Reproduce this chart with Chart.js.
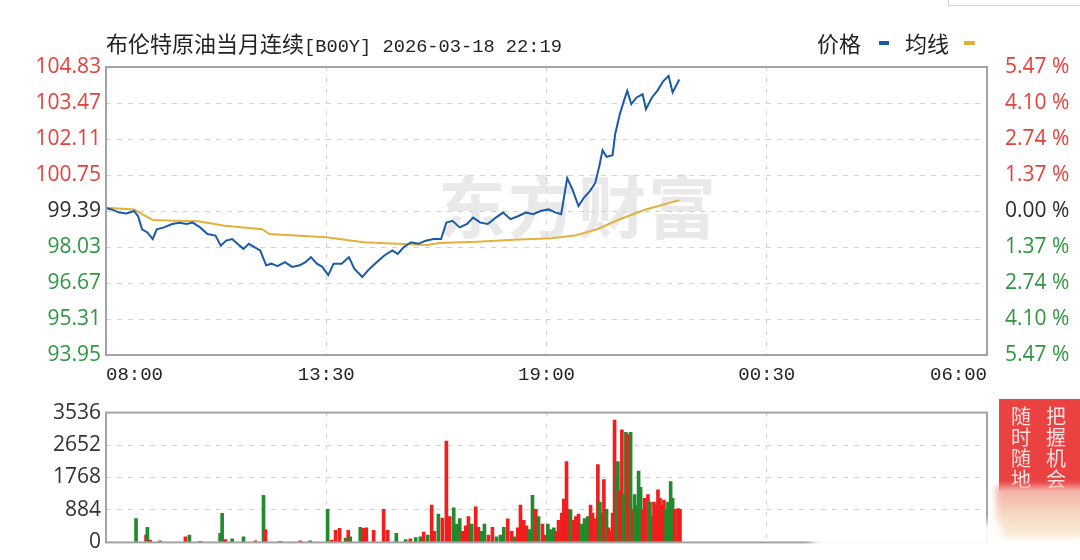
<!DOCTYPE html>
<html><head><meta charset="utf-8">
<script src="https://cdn.jsdelivr.net/npm/chart.js@4/dist/chart.umd.min.js"></script>
<style>
html,body{margin:0;padding:0;background:#fff;}
body{width:1080px;height:560px;overflow:hidden;position:relative;font-family:"Noto Sans CJK SC",sans-serif;}
canvas{position:absolute;left:0;}
#c1{top:0;}
#c2{top:395px;}
.t{position:absolute;white-space:nowrap;color:#222;line-height:1;}
.mono{font-family:"Liberation Mono",monospace;font-size:18.7px;}
#wm{position:absolute;left:438px;top:170px;font-size:68px;font-weight:700;color:#e9e9e9;letter-spacing:2px;line-height:1;}
#ad{position:absolute;left:999px;top:399px;width:81px;height:92px;background:#ea4141;color:#fbe3e3;font-size:20px;line-height:1.05;}
#ad .col{position:absolute;top:6px;width:22px;text-align:center;}
#adb{position:absolute;left:996px;top:486px;width:90px;height:52px;background:linear-gradient(#f3aaa2,#f6d9c4 55%,#f9eedb);filter:blur(3px);}
#blur{position:absolute;left:812px;top:522px;width:190px;height:34px;background:rgba(255,255,255,0.92);filter:blur(4px);}
#tr{position:absolute;left:948px;top:-20px;width:140px;height:24px;border:1px solid #c4d8ee;}
</style></head><body>
<div id="wm">东方财富</div>
<canvas id="c1" width="1080" height="400"></canvas>
<canvas id="c2" width="1080" height="165"></canvas>
<div class="t" style="left:106px;top:31px;font-size:22px;">布伦特原油当月连续<span class="mono">[B00Y] 2026-03-18 22:19</span></div>
<div class="t" style="left:817px;top:31px;font-size:22px;">价格</div>
<div style="position:absolute;left:879px;top:41px;width:10px;height:4px;background:#1c5aa6;"></div>
<div class="t" style="left:905px;top:31px;font-size:22px;">均线</div>
<div style="position:absolute;left:964px;top:41px;width:11px;height:4px;background:#e3b03c;"></div>
<div id="ad"><div class="col" style="left:46px;">把<br>握<br>机<br>会</div><div class="col" style="left:11px;">随<br>时<br>随<br>地</div></div>
<div id="adb"></div>
<div id="blur"></div>
<div id="tr"></div>
<script>
// ---------------- data ----------------
const xTickLabels = ["08:00","13:30","19:00","00:30","06:00"];
const prevClose = 99.39;
const priceTicks = [93.95,95.31,96.67,98.03,99.39,100.75,102.11,103.47,104.83];
const pctTickLabels = ["5.47","4.10","2.74","1.37","0.00","1.37","2.74","4.10","5.47"];
const volTicks = [0,884,1768,2652,3536];

const priceTimes = ["08:00","08:08","08:20","08:31","08:42","08:48","08:54","09:02","09:10","09:16","09:27","09:39","09:50","10:01","10:10","10:21","10:32","10:44","10:52","11:00","11:09","11:17","11:26","11:34","11:43","11:51","12:00","12:08","12:17","12:28","12:39","12:50","12:59","13:07","13:16","13:24","13:33","13:41","13:53","14:04","14:12","14:24","14:35","14:46","14:57","15:09","15:17","15:26","15:37","15:48","15:59","16:11","16:22","16:30","16:39","16:50","17:01","17:10","17:21","17:32","17:44","17:55","18:06","18:18","18:29","18:40","18:51","19:03","19:14","19:22","19:31","19:39","19:48","19:56","20:05","20:13","20:19","20:24","20:30","20:39","20:43","20:50","20:56","21:01","21:07","21:15","21:24","21:29","21:38","21:46","21:55","22:03","22:09","22:19"];
const priceValues = [99.50,99.45,99.33,99.30,99.39,99.20,98.70,98.58,98.33,98.70,98.77,98.90,98.95,98.90,98.95,98.77,98.52,98.46,98.08,98.27,98.33,98.15,97.96,98.15,98.02,97.90,97.34,97.40,97.31,97.46,97.28,97.34,97.46,97.65,97.40,97.28,96.97,97.40,97.40,97.65,97.21,96.90,97.21,97.46,97.71,97.90,97.77,98.02,98.21,98.15,98.27,98.33,98.33,98.95,99.02,98.77,98.90,99.14,98.95,98.90,99.14,99.33,99.08,99.20,99.33,99.27,99.39,99.45,99.33,99.27,100.63,100.20,99.58,99.89,100.14,100.45,101.07,101.69,101.44,101.50,102.31,103.06,103.55,103.93,103.43,103.68,103.80,103.24,103.68,103.93,104.30,104.49,103.87,104.36];

const avgTimes = ["08:00","08:42","08:54","09:10","09:44","10:18","10:58","11:54","12:05","13:30","14:26","15:17","16:02","16:19","17:16","18:12","19:08","19:42","20:16","20:50","21:29","22:19"];
const avgValues = [99.51,99.45,99.27,99.05,99.02,99.00,98.83,98.70,98.52,98.40,98.21,98.15,98.11,98.18,98.23,98.30,98.36,98.46,98.70,99.08,99.45,99.80];

// volume: minutes after 08:00, lots, 1 = up (red) / 0 = down (green)
const volMinutes = [45,60,62,66,81,119,125,141,171,174,179,189,206,224,236,239,261,291,306,332,338,344,350,359,363,366,381,386,390,401,416,422,435,449,456,464,471,476,482,488,492,498,504,510,515,521,525,530,534,539,543,548,554,558,563,567,573,579,585,591,596,602,608,612,617,621,626,630,635,639,644,648,654,659,662,666,671,675,678,683,686,690,693,696,701,704,708,713,717,722,726,729,734,737,740,743,746,750,753,756,759,762,765,767,770,773,776,779,782,785,786,789,792,795,798,801,804,807,812,815,818,821,824,827,830,833,836,839,842,846,849,852,857,860];
const volValues = [650,200,410,60,40,150,200,30,250,790,80,100,150,40,1280,350,30,40,40,900,60,330,380,120,330,150,410,380,400,330,900,330,250,80,100,130,150,280,200,1020,300,770,660,2760,700,940,500,650,300,450,700,500,970,410,300,500,200,410,150,200,410,640,300,150,400,1020,600,450,350,1280,900,700,500,200,500,350,400,300,600,800,1180,2200,900,880,600,700,770,500,650,700,1020,800,650,2120,1100,800,1710,900,400,300,800,3330,1800,2200,1400,3070,1300,3000,2940,1200,3000,900,1300,1000,1940,1500,900,1200,1300,1100,700,1100,1000,1430,1200,1000,1150,900,1100,1660,1200,900,920,900];
const volUp = [0,1,0,1,0,1,0,1,0,0,1,0,0,1,0,1,1,1,0,0,1,1,1,0,1,0,0,1,1,1,1,1,0,0,1,0,0,1,0,1,1,0,1,1,1,0,0,0,1,1,1,0,1,1,0,0,1,1,0,0,0,1,1,0,1,1,1,1,0,0,1,0,1,1,0,0,0,1,1,1,1,1,1,0,1,1,1,0,0,0,1,1,1,1,0,0,1,0,1,1,1,1,0,0,1,1,0,0,1,1,0,1,0,0,0,0,1,1,1,0,0,1,1,1,1,1,1,0,0,0,0,1,1,1];

// ---------------- helpers ----------------
function toMin(t){const [h,m]=t.split(':').map(Number);let v=h*60+m-480;if(v<0)v+=1440;return v;}
const xTickPos = xTickLabels.map(toMin);
const RED='#e5413b', GREEN='#2f9640', DARK='#2a2a2a';
const GRID='#d2d2d2';
function tickColor(v){ if(Math.abs(v-prevClose)<1e-6) return DARK; return v>prevClose?RED:GREEN; }
const frame = {id:'frame', afterDraw(chart){const a=chart.chartArea,c=chart.ctx;c.save();c.strokeStyle='#a3a3a3';c.lineWidth=2;c.setLineDash([]);c.strokeRect(a.left,a.top,a.right-a.left,a.bottom-a.top);c.restore();}};
const numFont = {family:'"Open Sans", sans-serif', size:21};

Chart.defaults.animation = false;

// ---------------- price chart ----------------
new Chart(document.getElementById('c1'), {
  type:'line',
  data:{datasets:[
    {data: priceTimes.map((t,i)=>({x:toMin(t),y:priceValues[i]})), borderColor:'#1c5aa6', borderWidth:2, pointRadius:0, tension:0, yAxisID:'y'},
    {data: avgTimes.map((t,i)=>({x:toMin(t),y:avgValues[i]})), borderColor:'#e3b03c', borderWidth:2, pointRadius:0, tension:0, yAxisID:'y'}
  ]},
  options:{
    responsive:false, devicePixelRatio:1,
    layout:{padding:{top:67,left:0,right:0,bottom:0}},
    plugins:{legend:{display:false},tooltip:{enabled:false}},
    scales:{
      x:{type:'linear',min:0,max:1320,
        afterBuildTicks:s=>{s.ticks=xTickPos.map(v=>({value:v}));},
        afterFit:s=>{s.height=45;},
        ticks:{autoSkip:false,maxRotation:0,align:'inner',padding:9,color:'#222',font:{family:'"Liberation Mono", monospace',size:19},
          callback:(v)=>xTickLabels[xTickPos.indexOf(v)]},
        grid:{drawTicks:false,lineWidth:1,color:c=>(c.index===0||c.index===4)?'rgba(0,0,0,0)':GRID},
        border:{display:false,dash:[4,7]}
      },
      y:{position:'left',min:priceTicks[0],max:priceTicks[priceTicks.length-1],
        afterBuildTicks:s=>{s.ticks=priceTicks.map(v=>({value:v}));},
        afterFit:s=>{s.width=106;},
        ticks:{autoSkip:false,padding:5,font:numFont,color:c=>tickColor(c.tick.value),callback:v=>v.toFixed(2)},
        grid:{drawTicks:false,lineWidth:1,color:c=>(c.index===0||c.index===priceTicks.length-1)?'rgba(0,0,0,0)':GRID},
        border:{display:false,dash:[5,6]}
      },
      y2:{position:'right',min:priceTicks[0],max:priceTicks[priceTicks.length-1],
        afterBuildTicks:s=>{s.ticks=priceTicks.map(v=>({value:v}));},
        afterFit:s=>{s.width=93;},
        ticks:{autoSkip:false,padding:10,font:numFont,color:c=>tickColor(c.tick.value),
          callback:(v,i)=>pctTickLabels[i]+' %'},
        grid:{display:false},border:{display:false}
      }
    }
  },
  plugins:[frame]
});

// ---------------- volume chart ----------------
new Chart(document.getElementById('c2'), {
  type:'bar',
  data:{datasets:[{
    data: volMinutes.map((m,i)=>({x:m,y:volValues[i]})),
    backgroundColor: volUp.map(u=>u?'#f01e1e':'#218a2c'),
    barThickness:3, borderWidth:0, grouped:false
  }]},
  options:{
    responsive:false, devicePixelRatio:1,
    layout:{padding:{top:8,left:0,right:93,bottom:0}},
    plugins:{legend:{display:false},tooltip:{enabled:false}},
    scales:{
      x:{type:'linear',min:0,max:1320,offset:false,
        afterBuildTicks:s=>{s.ticks=xTickPos.map(v=>({value:v}));},
        afterFit:s=>{s.height=17;},
        ticks:{display:false},
        grid:{offset:false,drawTicks:false,lineWidth:1,color:c=>(c.index===0||c.index===4)?'rgba(0,0,0,0)':GRID},
        border:{display:false,dash:[4,7]}
      },
      y:{position:'left',min:0,max:volTicks[volTicks.length-1],
        afterBuildTicks:s=>{s.ticks=volTicks.map(v=>({value:v}));},
        afterFit:s=>{s.width=106;},
        ticks:{autoSkip:false,padding:5,font:numFont,color:'#333',callback:v=>String(v)},
        grid:{drawTicks:false,lineWidth:1,color:c=>(c.index===0||c.index===volTicks.length-1)?'rgba(0,0,0,0)':GRID},
        border:{display:false,dash:[5,6]}
      }
    }
  },
  plugins:[frame]
});
</script>
</body></html>
